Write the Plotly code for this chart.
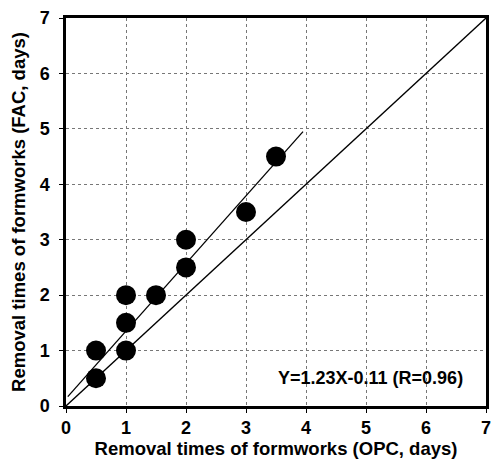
import plotly.graph_objects as go

opc_days = [0.5, 0.5, 1, 1, 1, 1.5, 2, 2, 3, 3.5]
fac_days = [0.5, 1, 1, 1.5, 2, 2, 2.5, 3, 3.5, 4.5]
fit_x = [0.03, 3.95]
fit_y = [0.17, 4.95]
equal_x = [0, 7]
equal_y = [0, 7]
ticks = [0, 1, 2, 3, 4, 5, 6, 7]

fig = go.Figure()
fig.add_trace(go.Scatter(x=equal_x, y=equal_y, mode="lines",
                         line=dict(color="black", width=1.3), showlegend=False))
fig.add_trace(go.Scatter(x=fit_x, y=fit_y, mode="lines",
                         line=dict(color="black", width=1.3), showlegend=False))
fig.add_trace(go.Scatter(x=opc_days, y=fac_days, mode="markers",
                         marker=dict(color="black", size=20, symbol="circle"),
                         showlegend=False))

font_b = "Liberation Sans, Arial, sans-serif"
axis_common = dict(
    range=[0, 7], tickvals=ticks, showgrid=True,
    gridcolor="#777", griddash="dot", gridwidth=1,
    zeroline=False, showline=True, linecolor="black", linewidth=2.5,
    mirror=True, ticks="outside", ticklen=4, tickcolor="black",
    tickfont=dict(family=font_b, size=18, color="black", weight=700),
)
fig.update_layout(
    width=499, height=466,
    margin=dict(l=66, r=8, t=14, b=60),
    plot_bgcolor="white", paper_bgcolor="white",
    xaxis=dict(**axis_common,
               title=dict(text="Removal times of formworks (OPC, days)",
                          font=dict(family=font_b, size=18.5, color="black", weight=700),
                          standoff=4)),
    yaxis=dict(**axis_common, ticklabelstandoff=6,
               title=dict(text="Removal times of formworks (FAC, days)",
                          font=dict(family=font_b, size=18.5, color="black", weight=700),
                          standoff=10)),
    annotations=[dict(x=5.07, y=0.5, xref="x", yref="y", showarrow=False,
                      text="Y=1.23X-0.11 (R=0.96)",
                      font=dict(family=font_b, size=18, color="black", weight=700))],
)
fig.write_html("out.html", config={"displayModeBar": False},
               post_script="document.body.style.margin='0';document.body.style.padding='0';")
